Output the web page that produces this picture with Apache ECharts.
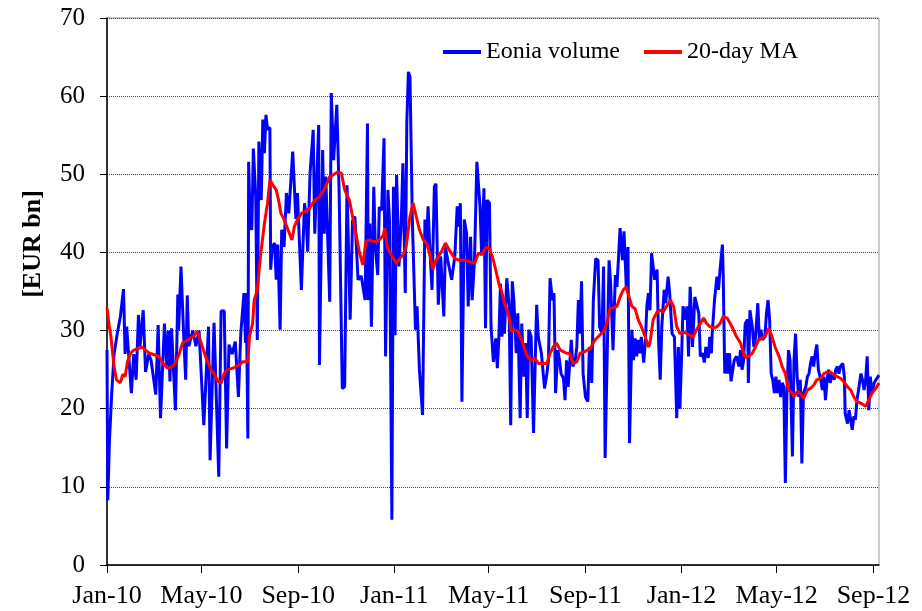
<!DOCTYPE html>
<html>
<head>
<meta charset="utf-8">
<title>Eonia volume</title>
<script src="https://cdn.jsdelivr.net/npm/echarts@6/dist/echarts.min.js"></script>
<style>
  html, body { margin: 0; padding: 0; background: #fff; }
  #chart { width: 922px; height: 611px; }
</style>
</head>
<body>
<div id="chart"></div>
<script>
// x values are days counted from 1 Jan 2010
var tickDays = [0, 120, 243, 365, 485, 608, 730, 851, 974];
var tickLabels = ['Jan-10', 'May-10', 'Sep-10', 'Jan-11', 'May-11', 'Sep-11', 'Jan-12', 'May-12', 'Sep-12'];

var volDays = [0, 1, 3, 6, 9, 13, 17, 21, 23, 25, 31, 34, 37, 40, 42, 46, 49, 53, 56, 60, 62, 65, 68, 73, 76, 78, 80, 82, 87, 90, 91, 94, 98, 100, 102, 104, 109, 113, 117, 123, 129, 131, 136, 142, 145, 149, 152, 155, 159, 163,
  167, 170, 174, 176, 177, 179, 180, 182, 184, 186, 189, 191, 193, 196, 198, 200, 202, 204, 207, 208, 210, 213, 215, 217, 220, 222, 225, 228, 231, 236, 240, 242, 247, 251, 253, 255, 258, 262, 264, 269, 270, 274, 276, 278, 283, 285, 288, 292, 295, 299, 302, 305, 309, 312, 315, 319, 323, 328, 331,
  332, 334, 336, 339, 341, 344, 346, 349, 352, 354, 357, 359, 362, 364, 366, 368, 371, 374, 376, 379, 381, 383, 385, 388, 392, 394, 397, 401, 404, 406, 408, 410, 413, 416, 418, 421, 424, 428, 430, 433, 438, 442, 445, 447, 449, 451, 454, 457, 459, 462, 464, 467, 470, 474, 476, 479, 481, 483, 486, 488, 491, 494, 496, 498,
  500, 502, 503, 505, 508, 511, 513, 515, 517, 520, 522, 525, 527, 529, 530, 532, 534, 536, 539, 542, 545, 546, 548, 552, 556, 559, 561, 563, 566, 568, 570, 573, 575, 577, 580, 582, 584, 586, 590, 592, 595, 597, 599, 601, 603, 605, 608, 611, 613, 616, 618, 621, 624, 626, 629, 631, 633, 636, 638, 640, 643, 646, 648, 652, 655, 657, 660, 662, 664,
  667, 669, 671, 673, 675, 677, 679, 682, 684, 686, 688, 690, 692, 694, 696, 699, 701, 703, 705, 708, 710, 713, 715, 718, 721, 724, 726, 728, 730, 732, 735, 737, 739, 741, 743, 744, 747, 749, 752, 754, 757, 759, 761, 764, 766, 768, 769, 772, 775, 777, 779, 782, 783, 785, 787, 789, 791, 793, 795, 797, 800, 803, 805, 807, 809, 811, 814, 815, 817, 820, 822, 824, 827, 829,
  831, 833, 836, 838, 840, 842, 844, 846, 848, 850, 852, 854, 856, 858, 860, 862, 864, 866, 868, 871, 873, 875, 877, 879, 881, 883, 885, 888, 890, 892, 894, 896, 898, 900, 902, 904, 907, 909, 911, 913, 915, 917, 919, 921, 924, 926, 928, 930, 932, 935, 937, 938, 941, 943, 945, 947, 949, 951, 953, 955, 958, 960, 962, 964, 966, 968, 970, 972, 975, 977, 979, 981];

var volValues = [27.5, 8.3, 15.6, 22, 27, 29.6, 31.8, 35.3, 27, 30.5, 22, 27, 23.7, 32, 28, 32.6, 24.7, 27, 26.2, 23.3, 21.8, 30.7, 18.8, 30.9, 25.5, 30, 23.5, 30.3, 19.8, 34.6, 30, 38.2, 28, 23.7, 34.5, 28, 30, 28, 30, 17.9, 30.5, 13.4, 31, 11.3, 32.5, 32.5, 14.9, 28.2, 27, 28.6,
  21.5, 29.6, 34.8, 28.4, 34.8, 16.2, 51.6, 43.3, 42.9, 53.3, 47.1, 28.8, 54.2, 46.7, 57, 52.7, 57.6, 55.7, 56, 37.8, 40.7, 41.2, 36.5, 41, 30.1, 42.9, 40.7, 47.6, 45, 52.9, 44.3, 47.6, 35.2, 46.3, 44.6, 40.1, 50.1, 55.7, 42.4, 56.3, 25.6, 53.1, 42.4, 49.7, 33.7, 60.4, 51.8, 58.9, 47.6, 22.6, 22.8, 48.6, 31.4, 44, 44.6, 36.5, 37, 33.9, 56.5,
  33.9, 43.7, 30.5, 48.4, 40.7, 37.1, 45.8, 45.4, 54.6, 26.7, 48, 44, 5.8, 48.4, 29.4, 49.9, 38.2, 44.2, 51.4, 34.8, 56.7, 63.1, 62.5, 44.2, 30.1, 33.1, 25, 19.2, 44.2, 40.7, 45.9, 41, 35.2, 48.4, 48.8, 33.3, 39.5, 31.8, 40.7, 39, 36.5, 39.5, 45.9, 43.3, 46.3, 20.9, 44.2, 42.4, 33.1, 42, 33.9, 39, 51.6, 45.9, 39.9, 48.2, 30.3, 46.7, 46.3, 30.5, 26, 29, 25.2, 29.2,
  36, 29.2, 33.9, 29.6, 36.7, 33.1, 17.9, 36.3, 33.9, 27.1, 32.2, 18.8, 30.9, 26.2, 24.1, 28.4, 18.8, 30.1, 29.2, 16.9, 29.6, 33.3, 29.2, 27.1, 22.6, 24.5, 26.2, 36.7, 33.9, 34.8, 22, 27.5, 26.2, 24.5, 23.9, 21.1, 26.2, 22.8, 28.8, 25.4, 26.2, 27.9, 33.9, 29.6, 36.3, 24.5, 21.5, 20.9, 27.9, 23.3, 33.9, 39.2, 39, 30.5, 29.6, 38.2, 13.7, 28.8, 39, 36, 27.5, 37.1, 35.6, 43.1, 39, 42.7, 35.2, 40.7, 15.6,
  30.1, 26.2, 29, 26.7, 28.8, 27.1, 29.2, 25.9, 28.4, 33.1, 34.8, 32.6, 39.9, 40.1, 36.5, 37.8, 28.4, 23.7, 30.5, 35.2, 33.5, 36.9, 34.8, 29.6, 29.2, 18.8, 27.9, 20, 26.2, 33.1, 31.4, 33.1, 26.7, 35.6, 31.4, 27.9, 34.3, 34.3, 32.2, 26.7, 27.1, 25.9, 27.9, 26.5, 29.2, 27.1, 29.6, 33.9, 36.9, 35.2, 37.8, 41, 37.3, 24.5, 27.1, 24.5, 27.1, 23.5, 23.7, 26.2, 26.7, 25.4, 27.5, 25, 26.2, 30.9, 31.4, 23.3, 32.6, 30.5, 27.9, 29, 33.5, 28.8,
  30.1, 28.8, 29.2, 32.2, 33.9, 31.4, 24.5, 23.7, 22, 24.1, 22, 23.7, 21.5, 23.3, 22.8, 10.5, 22, 27.5, 26.2, 13.9, 26.2, 29.6, 24.1, 21.5, 23.7, 13, 22, 22.8, 24.1, 24.5, 25.8, 26.7, 25.4, 27.1, 28.2, 25, 23.7, 22.4, 24.1, 21.1, 23.7, 25, 23.3, 24.5, 23.7, 25, 25.4, 24.5, 25.4, 25.8, 24.1, 19.4, 18.1, 19.8, 18.6, 17.3, 19, 18.6, 21.1, 22.4, 24.5, 23.7, 22.4, 23.7, 26.7, 19.8, 24.1, 22, 23.3, 23.7, 23.9, 24.3];

var maDays = [0, 3, 5, 9, 12, 17, 20, 23, 26, 30, 34, 39, 45, 49, 54, 60, 66, 71, 77, 83, 87, 92, 96, 102, 109, 115, 117, 121, 126, 132, 136, 141, 145, 149, 153, 160, 164, 168,
  172, 179, 181, 185, 187, 191, 195, 200, 204, 207, 211, 215, 218, 221, 225, 230, 235, 238, 242, 247, 251, 257, 264, 270, 276, 283, 287, 293, 298, 302, 308, 312, 317, 321, 325, 329, 334,
  338, 342, 346, 351, 353, 356, 361, 368, 372, 376, 380, 385, 389, 393, 397, 402, 406, 410, 414, 418, 425, 430, 435, 442, 448, 455, 461, 467, 472, 476, 482, 486, 491, 495, 499,
  501, 505, 510, 514, 518, 522, 527, 531, 535, 539, 544, 548, 552, 559, 563, 567, 571, 576, 580, 584, 588, 592, 597, 601, 607, 614, 620, 626, 631, 635, 639, 643, 648, 652, 656, 660,
  662, 667, 671, 675, 679, 684, 688, 690, 694, 699, 703, 707, 711, 716, 720, 724, 728, 733, 737, 741, 745, 749, 754, 758, 762, 766, 771, 775, 779, 783, 788, 792, 796, 800, 805, 809, 812, 815, 820, 824, 828,
  832, 837, 841, 845, 849, 854, 858, 862, 866, 871, 873, 877, 881, 885, 890, 894, 898, 902, 907, 911, 915, 919, 924, 928, 932, 936, 941, 945, 949, 953, 958, 964, 968, 972, 977, 981];

var maValues = [32.9, 30.5, 29.2, 25.4, 23.7, 23.3, 24.4, 24.1, 26, 27.1, 27.5, 27.7, 27.9, 27.5, 27.1, 26.9, 26.7, 25.8, 25.2, 25.4, 25.8, 27.1, 28.4, 28.8, 29.2, 29.9, 30.1, 28, 26.5, 25, 24.5, 23.5, 23.3, 24.5, 25, 25.2, 25.4, 25.6,
  26, 26, 29.2, 30.9, 33.9, 35.2, 39.5, 43.7, 46.3, 49.3, 48.6, 48, 46.7, 45, 44.2, 42.9, 41.6, 43.3, 44.2, 45, 45.2, 45.6, 46.7, 47.1, 48, 49.7, 49.9, 50.3, 50.1, 48, 46.7, 44.6, 42, 39.9, 38.4, 41.4, 41.6,
  41.4, 41.4, 41.6, 42.2, 43.1, 40.7, 39.7, 38.6, 39.2, 39.7, 40.7, 44.6, 46.3, 44.6, 42.9, 41.6, 41.2, 39.9, 37.8, 39, 40.1, 41.2, 40.3, 39.2, 39, 39, 38.8, 38.6, 39.9, 39.7, 40.7, 40.5, 39, 37.3, 35.6,
  35.2, 33.5, 32.2, 29.9, 30.1, 29.9, 28.8, 27.5, 26.5, 26.2, 26.4, 25.8, 25.8, 25.8, 27.1, 27.9, 28.4, 27.5, 27.3, 27.1, 27.1, 25.8, 26, 27.1, 27.3, 27.7, 28.8, 29.4, 29.9, 30.9, 32.8, 32.9, 33.1, 34.3, 35.2, 35.6,
  34.8, 33.1, 32.8, 31.4, 30.5, 29.2, 27.9, 28.4, 31.4, 32.4, 32.6, 32.4, 33.1, 33.9, 33.1, 30.5, 29.6, 29.8, 29.6, 29.4, 29.2, 30.1, 30.9, 31.6, 30.9, 30.5, 30.3, 30.5, 30.9, 31.8, 31.6, 30.9, 30.1, 29.2, 28.4, 27.1, 26.5, 26.7, 27.1, 27.9, 28.8,
  29, 29.4, 30.3, 29.2, 27.9, 26.7, 25.4, 24.5, 22.4, 22, 21.5, 22.2, 22, 21.3, 22.4, 22.6, 23, 23.7, 23.9, 24.5, 24.7, 24.7, 24.3, 24.1, 23.9, 23.5, 22.8, 22.4, 21.5, 20.9, 20.7, 20.3, 21.1, 22, 22.6, 23.3];

var volData = volDays.map(function (d, i) { return [d, volValues[i]]; });
var maData = maDays.map(function (d, i) { return [d, maValues[i]]; });

var chart = echarts.init(document.getElementById('chart'), null, { renderer: 'canvas' });
var font = 'Liberation Serif';

var option = {
    animation: false,
    backgroundColor: '#ffffff',
    textStyle: { fontFamily: font },
    grid: {
        left: 107,
        right: 43,
        top: 18,
        bottom: 46,
        show: true,
        borderColor: '#999999',
        borderWidth: 1
    },
    legend: {
        left: 443,
        top: 40,
        padding: 0,
        itemWidth: 38,
        itemHeight: 4,
        itemGap: 24,
        textStyle: { fontFamily: font, fontSize: 24, color: '#000' },
        data: [
            { name: 'Eonia volume', icon: 'rect' },
            { name: '20-day MA', icon: 'rect' }
        ]
    },
    xAxis: {
        type: 'value',
        min: 0,
        max: 981,
        axisLine: { lineStyle: { color: '#000', width: 1.5 } },
        axisTick: { show: true, length: 8, lineStyle: { color: '#000' }, customValues: tickDays },
        axisLabel: {
            customValues: tickDays,
            margin: 18,
            fontFamily: font,
            fontSize: 26,
            color: '#000',
            formatter: function (v) {
                var i = tickDays.indexOf(v);
                return i >= 0 ? tickLabels[i] : '';
            }
        },
        splitLine: { show: false }
    },
    yAxis: {
        type: 'value',
        min: 0,
        max: 70,
        interval: 10,
        name: '[EUR bn]',
        nameLocation: 'middle',
        nameGap: 61,
        nameTextStyle: { fontFamily: font, fontSize: 26, fontWeight: 'bold', color: '#000', padding: [0, 0, 0, 95] },
        axisLine: { show: true, lineStyle: { color: '#000', width: 1.5 } },
        axisTick: { show: true, length: 7, lineStyle: { color: '#000' } },
        axisLabel: { margin: 22, fontFamily: font, fontSize: 25, color: '#000' },
        splitLine: { show: true, lineStyle: { color: '#444', type: 'dotted', width: 1 } }
    },
    series: [
        {
            name: 'Eonia volume',
            type: 'line',
            data: volData,
            showSymbol: false,
            color: '#0000ff',
            lineStyle: { color: '#0000ff', width: 3 }
        },
        {
            name: '20-day MA',
            type: 'line',
            data: maData,
            showSymbol: false,
            color: '#ff0000',
            lineStyle: { color: '#ff0000', width: 3 }
        }
    ]
};
chart.setOption(option);
</script>
</body>
</html>
